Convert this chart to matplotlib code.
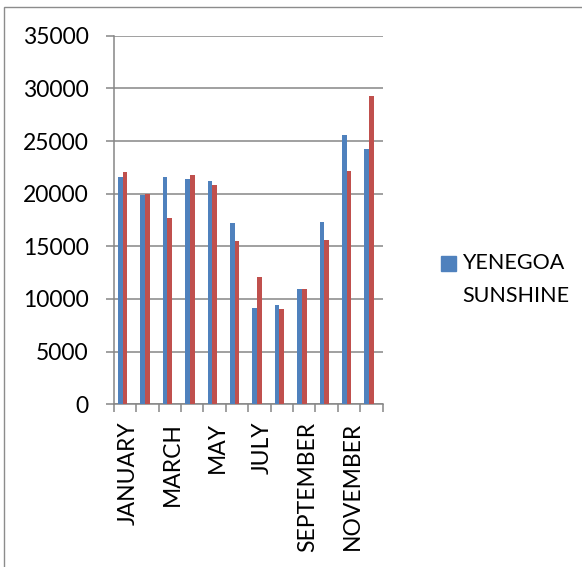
import matplotlib
matplotlib.use("Agg")
import matplotlib.pyplot as plt
from matplotlib.patches import Rectangle
from matplotlib.transforms import ScaledTranslation
import numpy as np

months = ["JANUARY", "FEBRUARY", "MARCH", "APRIL", "MAY", "JUNE", "JULY",
          "AUGUST", "SEPTEMBER", "OCTOBER", "NOVEMBER", "DECEMBER"]
sunshine_a = [21600, 19900, 21600, 21400, 21200, 17200, 9100, 9450, 10900, 17300, 25600, 24250]
sunshine_b = [22100, 20000, 17700, 21800, 20800, 15500, 12100, 9060, 10900, 15600, 22200, 29300]
y_ticks = [0, 5000, 10000, 15000, 20000, 25000, 30000, 35000]
legend_label = "YENEGOA\nSUNSHINE"

BLUE = "#4F81BD"
RED = "#C0504D"
GRID = "#868686"
FONT = "Lato"

fig = plt.figure(figsize=(5.82, 5.67), dpi=100)
ax = fig.add_axes([0.1954, 0.287, 0.4622, 0.650])

x = np.arange(len(months))
w = 0.21
ax.bar(x - 0.21, sunshine_a, width=w, color=BLUE, zorder=3)
ax.bar(x + 0.0, sunshine_b, width=w, color=RED, zorder=3)

ax.set_xlim(-0.5, len(months) - 0.5)
ax.set_ylim(0, 35000)

# horizontal gridlines
ax.set_yticks(y_ticks)
ax.yaxis.grid(True, color=GRID, linewidth=1.1, zorder=0)
ax.set_axisbelow(True)
ax.tick_params(axis="y", length=6, width=1.1, color=GRID, pad=12,
               labelsize=16.5)
for t in ax.get_yticklabels():
    t.set_fontfamily(FONT)

# category labels every other month, boundary ticks in between
ax.set_xticks(x[::2])
ax.set_xticklabels(months[::2], rotation=90, fontsize=16.5, fontfamily=FONT,
                   va="top", ha="center")
ax.tick_params(axis="x", which="major", length=0, pad=12.5)
shift = ScaledTranslation(3 / 100, 0, fig.dpi_scale_trans)
for t in ax.get_xticklabels():
    t.set_transform(t.get_transform() + shift)
ax.set_xticks(np.arange(-0.5, len(months), 1.0), minor=True)
ax.tick_params(axis="x", which="minor", length=6, width=1.1, color=GRID)

for s in ["top", "right"]:
    ax.spines[s].set_visible(False)
for s in ["left", "bottom"]:
    ax.spines[s].set_color(GRID)
    ax.spines[s].set_linewidth(1.1)

# legend
fig.patches.append(Rectangle((441 / 582, 1 - 271 / 567), 15 / 582, 15 / 567,
                             transform=fig.transFigure, color=BLUE))
fig.text(462 / 582, 1 - 253 / 567, legend_label, fontsize=15.5, fontfamily=FONT,
         va="top", ha="left", linespacing=1.8)

# chart frame
fig.patches.append(Rectangle((4 / 582, -0.1), 1.2, 1 - 7 / 567 + 0.1,
                             transform=fig.transFigure, fill=False,
                             edgecolor="#8c8c8c", linewidth=1.0))

fig.savefig("out.png", dpi=100)
